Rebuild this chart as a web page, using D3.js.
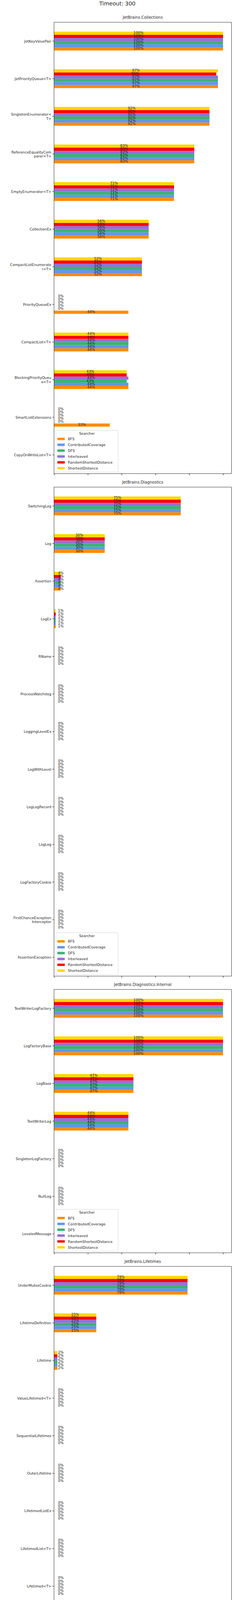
<!DOCTYPE html>
<html>
<head>
<meta charset="utf-8">
<script src="https://cdn.jsdelivr.net/npm/d3@7"></script>
<style>
  body { margin: 0; background: #fff; }
  text { font-family: "DejaVu Sans", sans-serif; fill: #262626; }
</style>
</head>
<body>
<div id="chart"></div>
<script>
// searchers, in legend order (BFS drawn at the bottom of each group)
var searchers = ["BFS", "ContributedCoverage", "DFS", "Interleaved", "RandomShortestDistance", "ShortestDistance"];
var colors = ["#FF8C00", "#6495ED", "#3CB371", "#9370DB", "#FF0000", "#FFD700"];
var xTicks = [0, 20, 40, 60, 80, 100];

// rows: [BFS, ContributedCoverage, DFS, Interleaved, RandomShortestDistance, ShortestDistance]
var collectionsNames = ["JetKeyValuePair", "JetPriorityQueue<T>", "SingletonEnumerator<T>", "ReferenceEqualityComparer<T>",
  "EmptyEnumerator<T>", "CollectionEx", "CompactListEnumerator<T>", "PriorityQueueEx", "CompactList<T>",
  "BlockingPriorityQueue<T>", "SmartListExtensions", "CopyOnWriteList<T>"];
var collectionsValues = [[100,100,100,100,100,100], [97,97,97,97,96,97], [92,92,92,92,92,92], [83,83,83,83,83,83],
  [71,71,71,71,71,71], [56,56,56,56,56,56], [52,52,52,52,52,52], [44,0,0,0,0,0], [44,44,44,44,44,44],
  [44,44,43,44,43,43], [33,0,0,0,0,0], [0,0,0,0,0,0]];

var diagnosticsNames = ["SwitchingLog", "Log", "Assertion", "LogEx", "RName", "ProcessWatchdog", "LoggingLevelEx",
  "LogWithLevel", "LogLogRecord", "LogLog", "LogFactoryCookie", "FirstChanceExceptionInterceptor", "AssertionException"];
var diagnosticsValues = [[75,75,75,75,75,75], [30,30,30,30,30,30], [4,4,4,4,4,4], [1,1,1,1,1,1],
  [0,0,0,0,0,0], [0,0,0,0,0,0], [0,0,0,0,0,0], [0,0,0,0,0,0], [0,0,0,0,0,0], [0,0,0,0,0,0],
  [0,0,0,0,0,0], [0,0,0,0,0,0], [0,0,0,0,0,0]];

var internalNames = ["TextWriterLogFactory", "LogFactoryBase", "LogBase", "TextWriterLog", "SingletonLogFactory", "NullLog", "LeveledMessage"];
var internalValues = [[100,100,100,100,100,100], [100,100,100,100,100,100], [47,47,47,47,47,47], [44,44,44,44,44,44],
  [0,0,0,0,0,0], [0,0,0,0,0,0], [0,0,0,0,0,0]];

var lifetimesNames = ["UnderMutexCookie", "LifetimeDefinition", "Lifetime", "ValueLifetimed<T>", "SequentialLifetimes",
  "OuterLifetime", "LifetimedListEx", "LifetimedList<T>", "Lifetimed<T>", "LifetimeCanceledException",
  "FinalizableGuard", "ExecuteIfAliveCookie", "AllowTerminationUnderExecutionCookie"];
var lifetimesValues = [[79,79,79,79,79,79], [25,25,25,25,25,25], [2,2,2,2,2,2], [0,0,0,0,0,0], [0,0,0,0,0,0],
  [0,0,0,0,0,0], [0,0,0,0,0,0], [0,0,0,0,0,0], [0,0,0,0,0,0], [0,0,0,0,0,0], [0,0,0,0,0,0], [0,0,0,0,0,0], [0,0,0,0,0,0]];

var utilNames = ["EmptyArray<T>", "BitHacks", "SingleThreadObjectPool<T>", "SingleThreadListPool<T>", "RuntimeInfo",
  "RentedValueCookie<T>", "ReflectionUtil", "NullableEx", "LocalStopwatch", "EmptyArray", "EmptyAction<T>",
  "EmptyAction<T1,T2>", "EmptyAction<T1,T2,T3>", "EmptyAction"];
var utilValues = [[100,100,100,100,100,100], [53,53,53,53,53,53], [0,0,0,0,0,0], [0,0,0,0,0,0], [0,0,0,0,0,0],
  [0,0,0,0,0,0], [0,0,0,0,0,0], [0,0,0,0,0,0], [0,0,0,0,0,0], [0,0,0,0,0,0], [0,0,0,0,0,0], [0,0,0,0,0,0],
  [0,0,0,0,0,0], [0,0,0,0,0,0]];

var utilUtilNames = ["BoolBitSlice", "Enum32BitSlice<T>", "Statics", "IntBitSlice", "Cast32BitEnum<T>", "BitSlice",
  "Types", "StaticsForType<T>", "BitSlice<T>", "CastTo<TTo>", "Cast64BitEnum<T>"];
var utilUtilValues = [[100,100,100,100,100,100], [92,92,92,92,92,92], [88,88,88,88,88,88], [75,75,75,75,75,75],
  [75,75,75,75,75,75], [71,71,71,71,71,71], [59,59,59,59,59,59], [36,36,36,36,36,36], [22,22,22,22,22,22],
  [0,0,0,0,0,0], [0,0,0,0,0,0]];

var panels = [
  {title: "JetBrains.Collections", names: collectionsNames, values: collectionsValues, top: 57},
  {title: "JetBrains.Diagnostics", names: diagnosticsNames, values: diagnosticsValues, top: 1247},
  {title: "JetBrains.Diagnostics.Internal", names: internalNames, values: internalValues, top: 2533},
  {title: "JetBrains.Lifetimes", names: lifetimesNames, values: lifetimesValues, top: 3242},
  {title: "JetBrains.Util", names: utilNames, values: utilValues, top: 4528},
  {title: "JetBrains.Util.Util", names: utilUtilNames, values: utilUtilValues, top: 5910}
];

var width = 600, height = 7000, left = 138.5, right = 593.5, step = 96.3;

var svg = d3.select("#chart").append("svg")
  .attr("width", width).attr("height", height);

svg.append("text").attr("x", 301).attr("y", 14).attr("text-anchor", "middle")
  .style("font-size", "14px").text("Timeout: 300");

var x = d3.scaleLinear().domain([0, 105]).range([left, right]);

function wrap(name) {
  var lines = [];
  for (var i = 0; i < name.length; i += 20) lines.push(name.slice(i, i + 20));
  return lines;
}

panels.forEach(function(p, pi) {
  var h = p.names.length * step;
  var g = svg.append("g").attr("transform", "translate(0," + p.top + ")");
  var y = d3.scaleBand().domain(p.names).range([0, h]).paddingInner(0.5).paddingOuter(0.25);
  var sub = d3.scaleBand().domain(d3.range(6).reverse()).range([0, y.bandwidth()]);

  g.append("text").attr("x", (left + right) / 2).attr("y", -9).attr("text-anchor", "middle")
    .style("font-size", "10px").text(p.title);

  var groups = g.selectAll(".grp").data(p.names).enter().append("g")
    .attr("transform", d => "translate(0," + y(d) + ")");

  groups.each(function(name, ci) {
    var grp = d3.select(this);
    var vals = p.values[ci];
    vals.forEach(function(v, si) {
      grp.append("rect").attr("x", x(0)).attr("y", sub(si))
        .attr("width", x(v) - x(0)).attr("height", sub.bandwidth())
        .attr("fill", colors[si]);
    });
    vals.forEach(function(v, si) {
      grp.append("text").attr("x", x(Math.max(v / 2, 4))).attr("y", sub(si) + sub.bandwidth() / 2 + 2)
        .attr("text-anchor", "middle").style("font-size", "9px").style("fill", "#222")
        .text(v + "%");
    });
  });

  // y axis with wrapped labels
  var yAxis = g.append("g").attr("transform", "translate(" + left + ",0)")
    .call(d3.axisLeft(y).tickSize(4).tickFormat(""));
  yAxis.select(".domain").remove();
  p.names.forEach(function(name) {
    var lines = wrap(name);
    var t = g.append("text").attr("x", left - 7).attr("text-anchor", "end")
      .attr("y", y(name) + y.bandwidth() / 2 - (lines.length - 1) * 5 + 3.5)
      .style("font-size", "9px");
    lines.forEach(function(l, li) {
      t.append("tspan").attr("x", left - 7).attr("dy", li ? 10.5 : 0).text(l);
    });
  });

  var xAxis = g.append("g").attr("transform", "translate(0," + h + ")")
    .call(d3.axisBottom(x).tickValues(xTicks).tickSize(4)
      .tickFormat(pi === panels.length - 1 ? d3.format("d") : ""));
  xAxis.select(".domain").remove();
  xAxis.selectAll("text").style("font-size", "9px").style("fill", "#262626");

  g.append("rect").attr("x", left).attr("y", 0).attr("width", right - left).attr("height", h)
    .attr("fill", "none").attr("stroke", "#000").attr("stroke-width", 0.8);

  // legend
  var lg = g.append("g").attr("transform", "translate(143," + (h - 111) + ")");
  lg.append("rect").attr("width", 160).attr("height", 107).attr("rx", 2)
    .attr("fill", "#fff").attr("fill-opacity", 0.8).attr("stroke", "#ccc").attr("stroke-width", 0.8);
  lg.append("text").attr("x", 80).attr("y", 11).attr("text-anchor", "middle")
    .style("font-size", "9px").text("Searcher");
  searchers.forEach(function(s, i) {
    lg.append("rect").attr("x", 4).attr("y", 19 + 15 * i).attr("width", 19).attr("height", 6).attr("fill", colors[i]);
    lg.append("text").attr("x", 31).attr("y", 25.5 + 15 * i).style("font-size", "9px").text(s);
  });
});
</script>
</body>
</html>
